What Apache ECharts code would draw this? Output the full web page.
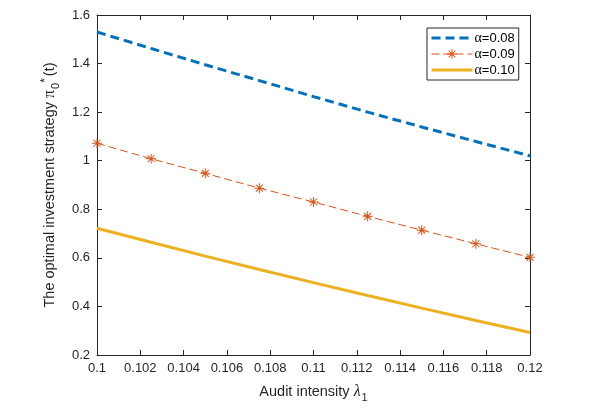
<!DOCTYPE html>
<html><head><meta charset="utf-8">
<script src="https://cdn.jsdelivr.net/npm/echarts@6/dist/echarts.min.js"></script>
<style>html,body{margin:0;padding:0;background:#fff}#c{width:602px;height:409px}</style>
</head><body><div id="c"></div>
<script>
const lambdas = [0.1, 0.1025, 0.105, 0.1075, 0.11, 0.1125, 0.115, 0.1175, 0.12];
const alpha008 = [1.530, 1.462, 1.395, 1.330, 1.264, 1.200, 1.139, 1.079, 1.020];
const alpha009 = [1.072, 1.008, 0.948, 0.887, 0.830, 0.771, 0.714, 0.658, 0.602];
const alpha010 = [0.722, 0.664, 0.607, 0.552, 0.498, 0.445, 0.393, 0.342, 0.293];
const seriesNames = ['α=0.08', 'α=0.09', 'α=0.10'];

const pair = (ys) => lambdas.map((x, i) => [x, ys[i]]);
const axisColor = '#262626';
const font = 'Liberation Sans, Arial, sans-serif';
const asterisk = 'path://M9 0L11 0L11 20L9 20Z M0 9L20 9L20 11L0 11Z M3.7 2.3L17.7 16.3L16.3 17.7L2.3 3.7Z M17.7 3.7L3.7 17.7L2.3 16.3L16.3 2.3Z';

const chart = echarts.init(document.getElementById('c'));
const baseX = {type: 'value', min: 0.1, max: 0.12, interval: 0.002,
  axisLine: {show: true, lineStyle: {color: axisColor, width: 1}},
  axisTick: {show: true, inside: true, length: 5, lineStyle: {color: axisColor}},
  splitLine: {show: false}};
const baseY = {type: 'value', min: 0.2, max: 1.6, interval: 0.2,
  axisLine: {show: true, lineStyle: {color: axisColor, width: 1}},
  axisTick: {show: true, inside: true, length: 5, lineStyle: {color: axisColor}},
  splitLine: {show: false}};
chart.setOption({
  animation: false,
  backgroundColor: '#fff',
  grid: {left: 97, right: 72, top: 15, bottom: 54, containLabel: false},
  legend: {
    orient: 'vertical', left: 427, top: 28,
    data: [
      {name: seriesNames[0], itemStyle: {opacity: 0}, lineStyle: {width: 3}},
      {name: seriesNames[1], lineStyle: {width: 1}},
      {name: seriesNames[2], itemStyle: {opacity: 0}, lineStyle: {width: 3}}
    ],
    backgroundColor: '#fff', borderColor: axisColor, borderWidth: 1,
    padding: [3, 4, 3, 3], itemWidth: 41, itemHeight: 12, itemGap: 2,
    formatter: (n) => '{g|α}' + n.slice(1),
    textStyle: {fontFamily: font, fontSize: 13, color: '#000', padding: [0, 0, 0, -3],
      rich: {g: {fontFamily: 'Liberation Serif, Times New Roman, serif', fontSize: 14, color: '#000'}}}
  },
  xAxis: [
    Object.assign({}, baseX, {position: 'bottom',
      axisLabel: {show: true, color: axisColor, fontFamily: font, fontSize: 13, margin: 7,
        formatter: (v) => String(parseFloat(v.toFixed(4)))},
      name: 'Audit intensity {l|λ}{s|1}', nameLocation: 'middle', nameGap: 26,
      nameTextStyle: {color: axisColor, fontFamily: font, fontSize: 14.5,
        rich: {l: {fontFamily: 'Liberation Serif, serif', fontSize: 16, color: axisColor, fontStyle: 'italic'},
               s: {fontFamily: font, fontSize: 11, color: axisColor, padding: [11, 0, 0, 1]}}}}),
    Object.assign({}, baseX, {position: 'top', axisLabel: {show: false}})
  ],
  yAxis: [
    Object.assign({}, baseY, {position: 'left',
      axisLabel: {show: true, color: axisColor, fontFamily: font, fontSize: 13, margin: 7,
        formatter: (v) => String(parseFloat(v.toFixed(2)))},
      name: 'The optimal investment strategy {p|π}{s|0}{u|*}(t)', nameLocation: 'middle', nameGap: 33, nameRotate: 90,
      nameTextStyle: {color: axisColor, fontFamily: font, fontSize: 14.5,
        rich: {p: {fontFamily: 'Liberation Serif, serif', fontSize: 16, color: axisColor},
               s: {fontFamily: font, fontSize: 11, color: axisColor, padding: [11, 0, 0, 1]},
               u: {fontFamily: font, fontSize: 12, color: axisColor, padding: [0, 2, 9, 0]}}}}),
    Object.assign({}, baseY, {position: 'right', axisLabel: {show: false}})
  ],
  series: [
    {name: seriesNames[0], type: 'line', data: pair(alpha008), symbol: 'none',
      lineStyle: {color: '#0072BD', width: 3, type: [9, 5]}, itemStyle: {color: '#0072BD'}},
    {name: seriesNames[1], type: 'line', data: pair(alpha009), symbol: asterisk, symbolSize: 10,
      lineStyle: {color: '#D95319', width: 1, type: [8, 4]}, itemStyle: {color: '#D95319'}},
    {name: seriesNames[2], type: 'line', data: pair(alpha010), symbol: 'none',
      lineStyle: {color: '#EDB120', width: 3}, itemStyle: {color: '#EDB120'}}
  ]
});
</script></body></html>
